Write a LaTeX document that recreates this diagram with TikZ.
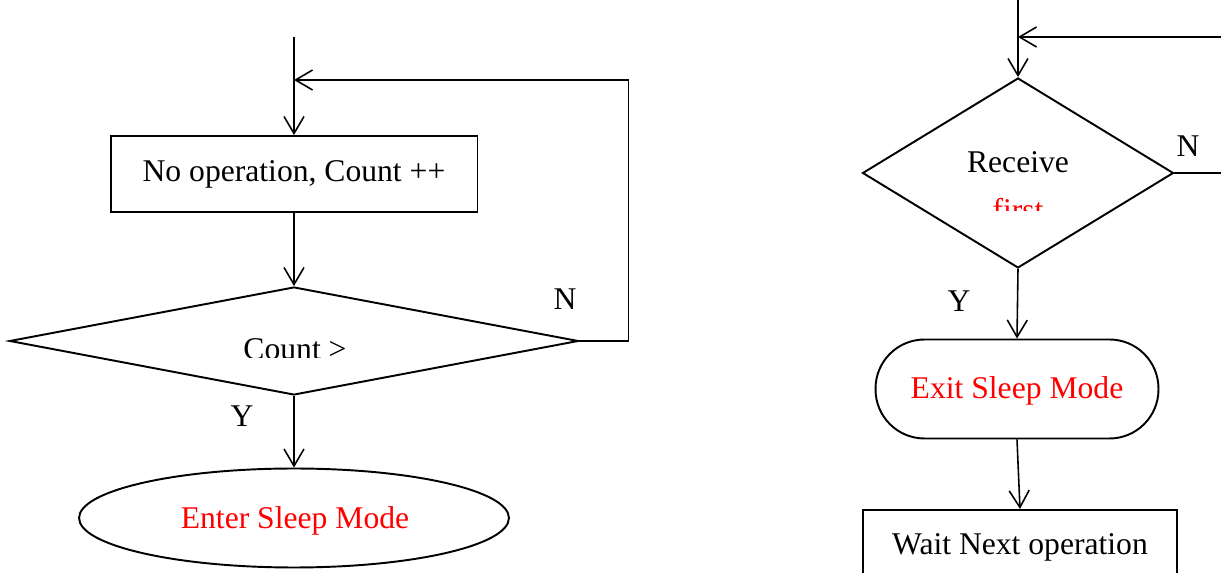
\documentclass[tikz,border=0pt]{standalone}
\usepackage{fontspec}
\setmainfont{Liberation Serif}
\usetikzlibrary{arrows.meta,shapes.geometric}

\begin{document}
\begin{tikzpicture}[x=0.02cm, y=-0.02cm,
    node font=\fontsize{18}{21}\selectfont,
    flow/.style={line width=0.9pt, -{Straight Barb[length=0.34cm, width=0.4cm]}},
    line/.style={line width=0.9pt},
    procbox/.style={draw, line width=1.1pt, inner sep=0pt, minimum width=#1},
    decision/.style={draw, diamond, line width=1.1pt, inner sep=0pt},
    lbl/.style={anchor=base, inner sep=0pt}]
  \path [use as bounding box, clip] (0,0) rectangle (1221,573);
  % left chart
  \node [procbox=7.34cm, minimum height=1.52cm] (count) at (294,174)
    {No operation, Count ++};
  \node [decision, minimum width=11.38cm, minimum height=2.16cm] (cmp) at (294,341) {};
  \begin{scope}
    \clip (180,300) rectangle (420,358);
    \node [lbl] (cmplbl) at (295,360) {Count >};
  \end{scope}
  \node [draw, ellipse, line width=1.1pt, inner sep=0pt,
    minimum width=8.6cm, minimum height=1.98cm] (sleep) at (294,518) {};
  \node [lbl, text=red] (sleeplbl) at (295,529) {Enter Sleep Mode};
  \node [lbl] (n1) at (565,310) {N};
  \node [lbl] (y1) at (242,427) {Y};
  \coordinate (in1) at (294,37);
  \coordinate (join1) at (294,80);
  \draw [flow] (in1) -- (count.north);
  \draw [flow] (count) -- (cmp.north);
  \draw [flow] (cmp.east) -- ++(49,0) |- (join1);
  \draw [flow] (cmp.south) -- (sleep.north);
  % right chart
  \node [decision, minimum width=6.22cm, minimum height=3.8cm] (rcv) at (1018,173) {};
  \node [lbl] (rcvlbl) at (1018,173) {Receive};
  \begin{scope}
    \clip (940,190) rectangle (1100,211);
    \node [lbl, text=red] (firstlbl) at (1018,221) {first};
  \end{scope}
  \node [draw, line width=1.1pt, rounded corners=0.98cm, inner sep=0pt,
    minimum width=5.66cm, minimum height=1.98cm] (exit) at (1017,389) {};
  \node [lbl, text=red] (exitlbl) at (1017,399) {Exit Sleep Mode};
  \node [procbox=6.28cm, minimum height=1.6cm, anchor=north] (wait) at (1020,509) {};
  \node [lbl] (waitlbl) at (1020,555) {Wait Next operation};
  \node [lbl] (n2) at (1188,157) {N};
  \node [lbl] (y2) at (959,312) {Y};
  \coordinate (in2) at (1018,0);
  \coordinate (join2) at (1018,37);
  \coordinate (back2) at (1221,37);
  \draw [flow] (in2) -- (rcv.north);
  \draw [flow] (back2) -- (join2);
  \draw [line] (rcv.east) -- ++(60,0);
  \draw [flow] (rcv.south) -- (exit.north);
  \draw [flow] (exit.south) -- (wait.north);
\end{tikzpicture}
\end{document}
